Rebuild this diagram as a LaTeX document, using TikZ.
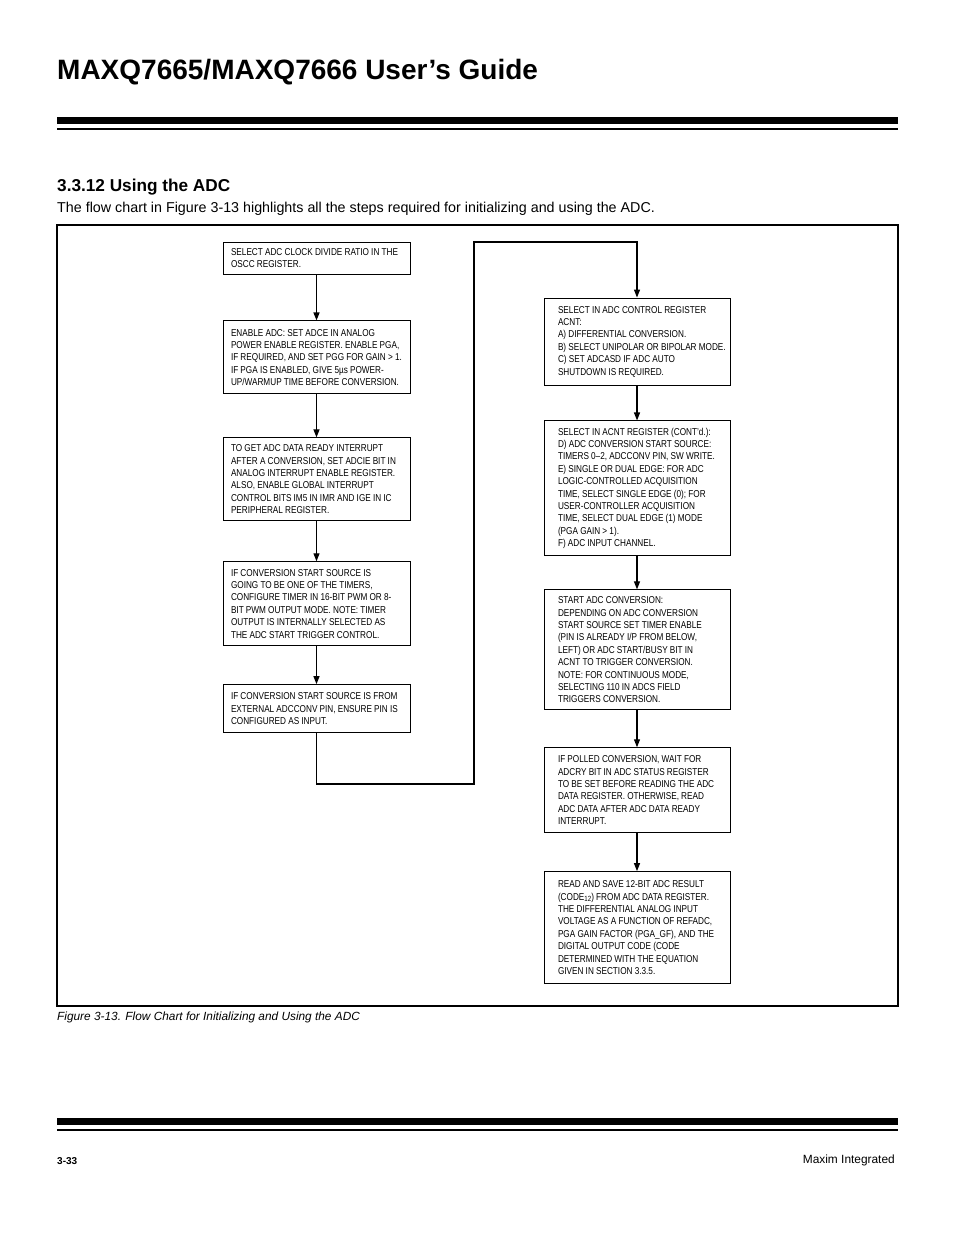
\documentclass[tikz,border=0pt]{standalone}
\usepackage{fontspec}
\setmainfont{Liberation Sans}
\newfontfamily\boxfont[FakeStretch=0.82]{Liberation Sans}
\usetikzlibrary{positioning,arrows.meta}

\begin{document}
\begin{tikzpicture}[x=1pt,y=-1pt,>={Triangle[length=8pt,width=6pt]},
  flowbox/.style={draw,line width=0.9pt,rectangle,align=left,
    font=\boxfont\fontsize{10}{12.4}\selectfont,inner ysep=2pt},
  left box/.style={flowbox,text width=171pt,inner xsep=8pt,
    execute at begin node={\rightskip=-15pt plus 1fil\spaceskip=0.22em plus 0.1em\hyphenpenalty=10000\relax}},
  right box/.style={flowbox,text width=182pt,inner xsep=2pt,
    execute at begin node={\leftskip=12pt\rightskip=-15pt plus 1fil\spaceskip=0.22em plus 0.1em\hyphenpenalty=10000\relax}},
  flow/.style={->,line width=1.2pt}]

  \useasboundingbox (0,0) rectangle (954,1235);

  % page head
  \node[anchor=base west,inner sep=0pt,font=\bfseries\fontsize{28}{28}\selectfont]
    (title) at (57,79) {MAXQ7665/MAXQ7666 User’s Guide};
  \fill (57,117) rectangle (898,124);
  \fill (57,127.5) rectangle (898,130);
  \node[anchor=base west,inner sep=0pt,font=\bfseries\fontsize{17.2}{17.2}\selectfont]
    (section) at (57,191) {3.3.12 Using the ADC};
  \node[anchor=base west,inner sep=0pt,font=\fontsize{14.3}{14.3}\selectfont]
    (intro) at (57,212) {The flow chart in Figure 3-13 highlights all the steps required for initializing and using the ADC.};

  % figure frame
  \draw[line width=1.2pt] (57,225) rectangle (898,1006);

  % left column
  \node[left box,minimum height=32pt] (l1) at (316.5,258)
    {SELECT ADC CLOCK DIVIDE RATIO IN THE\\OSCC REGISTER.};
  \node[left box,minimum height=73pt] (l2) [below=46pt of l1]
    {ENABLE ADC: SET ADCE IN ANALOG\\POWER ENABLE REGISTER. ENABLE PGA,\\IF REQUIRED, AND SET PGG FOR GAIN > 1.\\IF PGA IS ENABLED, GIVE 5µs POWER-\\UP/WARMUP TIME BEFORE CONVERSION.};
  \node[left box,minimum height=83pt] (l3) [below=43pt of l2]
    {TO GET ADC DATA READY INTERRUPT\\AFTER A CONVERSION, SET ADCIE BIT IN\\ANALOG INTERRUPT ENABLE REGISTER.\\ALSO, ENABLE GLOBAL INTERRUPT\\CONTROL BITS IM5 IN IMR AND IGE IN IC\\PERIPHERAL REGISTER.};
  \node[left box,minimum height=84pt] (l4) [below=40pt of l3]
    {IF CONVERSION START SOURCE IS\\GOING TO BE ONE OF THE TIMERS,\\CONFIGURE TIMER IN 16-BIT PWM OR 8-\\BIT PWM OUTPUT MODE. NOTE: TIMER\\OUTPUT IS INTERNALLY SELECTED AS\\THE ADC START TRIGGER CONTROL.};
  \node[left box,minimum height=48pt] (l5) [below=38pt of l4]
    {IF CONVERSION START SOURCE IS FROM\\EXTERNAL ADCCONV PIN, ENSURE PIN IS\\CONFIGURED AS INPUT.};

  % right column
  \node[right box,minimum height=87pt] (r1) at (637,341.5)
    {SELECT IN ADC CONTROL REGISTER\\ACNT:\\A) DIFFERENTIAL CONVERSION.\\B) SELECT UNIPOLAR OR BIPOLAR MODE.\\C) SET ADCASD IF ADC AUTO\\SHUTDOWN IS REQUIRED.};
  \node[right box,minimum height=135pt] (r2) [below=35pt of r1]
    {SELECT IN ACNT REGISTER (CONT’d.):\\D) ADC CONVERSION START SOURCE:\\TIMERS 0–2, ADCCONV PIN, SW WRITE.\\E) SINGLE OR DUAL EDGE: FOR ADC\\LOGIC-CONTROLLED ACQUISITION\\TIME, SELECT SINGLE EDGE (0); FOR\\USER-CONTROLLER ACQUISITION\\TIME, SELECT DUAL EDGE (1) MODE\\(PGA GAIN > 1).\\F) ADC INPUT CHANNEL.};
  \node[right box,minimum height=120pt] (r3) [below=33pt of r2]
    {START ADC CONVERSION:\\DEPENDING ON ADC CONVERSION\\START SOURCE SET TIMER ENABLE\\(PIN IS ALREADY I/P FROM BELOW,\\LEFT) OR ADC START/BUSY BIT IN\\ACNT TO TRIGGER CONVERSION.\\NOTE: FOR CONTINUOUS MODE,\\SELECTING 110 IN ADCS FIELD\\TRIGGERS CONVERSION.};
  \node[right box,minimum height=85pt] (r4) [below=37pt of r3]
    {IF POLLED CONVERSION, WAIT FOR\\ADCRY BIT IN ADC STATUS REGISTER\\TO BE SET BEFORE READING THE ADC\\DATA REGISTER. OTHERWISE, READ\\ADC DATA AFTER ADC DATA READY\\INTERRUPT.};
  \node[right box,minimum height=112pt] (r5) [below=38pt of r4]
    {READ AND SAVE 12-BIT ADC RESULT\\(CODE\raisebox{-1.5pt}{\fontsize{7.5}{7.5}\selectfont 12}) FROM ADC DATA REGISTER.\\THE DIFFERENTIAL ANALOG INPUT\\VOLTAGE AS A FUNCTION OF REFADC,\\PGA GAIN FACTOR (PGA\_GF), AND THE\\DIGITAL OUTPUT CODE (CODE\\DETERMINED WITH THE EQUATION\\GIVEN IN SECTION 3.3.5.};

  % connectors
  \coordinate (c2) at (474,784);
  \coordinate (c1) at (l5.south |- c2);
  \coordinate (c3) at (474,242);
  \coordinate (c4) at (r1.north |- c3);

  \path[flow]
  (l1) edge (l2)
  (l2) edge (l3)
  (l3) edge (l4)
  (l4) edge (l5)
  (r1) edge (r2)
  (r2) edge (r3)
  (r3) edge (r4)
  (r4) edge (r5);
  \draw[flow] (l5) -- (c1) -- (c2) -- (c3) -- (c4) -- (r1);

  % caption and page foot
  \node[anchor=base west,inner sep=0pt,font=\itshape\fontsize{11.85}{11.85}\selectfont]
    (caption) at (57,1020) {Figure 3-13. Flow Chart for Initializing and Using the ADC};
  \fill (57,1118) rectangle (898,1125);
  \fill (57,1128.5) rectangle (898,1131);
  \node[anchor=base west,inner sep=0pt,font=\bfseries\fontsize{10}{10}\selectfont]
    (pagenum) at (57,1164) {3-33};
  \node[anchor=base east,inner sep=0pt,font=\fontsize{11.9}{11.9}\selectfont]
    (maxim) at (895,1163) {Maxim Integrated};
\end{tikzpicture}
\end{document}
